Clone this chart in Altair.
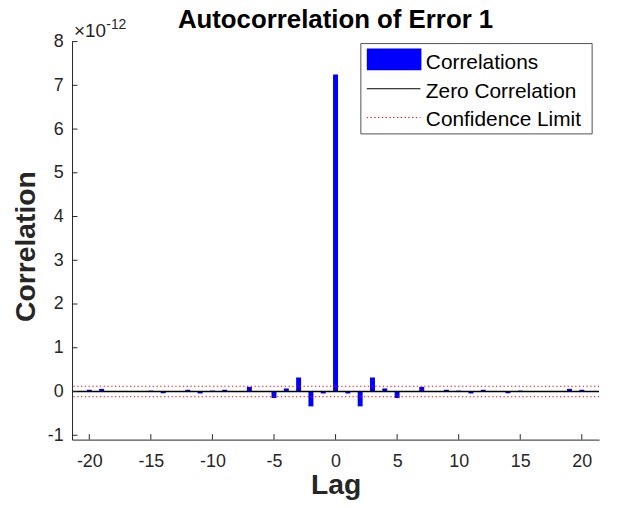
import altair as alt
import pandas as pd

# ---- data (correlation values in units of 1e-12) ----
lags = list(range(-20, 21))
half = [0.04, 0.06, 0.0, -0.01, 0.01, 0.02, -0.04, 0.005, 0.04, -0.045,
        0.02, 0.04, 0.005, 0.105, -0.01, -0.15, 0.07, 0.32, -0.34, -0.045]
peak = 7.25
values = half + [peak] + half[::-1]
conf_limit = 0.12
x_ticks = [-20, -15, -10, -5, 0, 5, 10, 15, 20]
y_ticks = [-1, 0, 1, 2, 3, 4, 5, 6, 7, 8]
legend_labels = ["Correlations", "Zero Correlation", "Confidence Limit"]
title_text = "Autocorrelation of Error 1"

FONT = "Liberation Sans"
AX = "#262626"
W, H = 531, 401

df = pd.DataFrame({"lag": lags, "corr": values})
xs = alt.Scale(domain=[-21, 21], nice=False, zero=False)
ys = alt.Scale(domain=[-1.1, 8], nice=False, zero=False)

bars = alt.Chart(df).mark_bar(color="#0000FF", size=5).encode(
    x=alt.X("lag:Q", scale=xs,
            axis=alt.Axis(values=x_ticks, title="Lag", labelExpr="'' + datum.value",
                          titleY=54, titleBaseline="alphabetic")),
    y=alt.Y("corr:Q", scale=ys,
            axis=alt.Axis(values=y_ticks, title="Correlation", labelExpr="'' + datum.value",
                          titleX=-47, titleY=206, titleBaseline="middle")),
    y2=alt.datum(0),
)

zero_line = alt.Chart(pd.DataFrame({"v": [0]})).mark_rule(color="black", strokeWidth=1.4).encode(
    y=alt.Y("v:Q", scale=ys)
)

conf_lines = alt.Chart(pd.DataFrame({"v": [conf_limit, -conf_limit]})).mark_rule(
    color="#FF0000", strokeWidth=1, strokeDash=[1.3, 2.5]
).encode(y=alt.Y("v:Q", scale=ys))

xtick_marks = alt.Chart(pd.DataFrame({"t": x_ticks})).mark_rule(color=AX, strokeWidth=1).encode(
    x=alt.X("t:Q", scale=xs), y=alt.value(H), y2=alt.value(H - 5.5)
)
ytick_marks = alt.Chart(pd.DataFrame({"t": y_ticks})).mark_rule(color=AX, strokeWidth=1).encode(
    y=alt.Y("t:Q", scale=ys), x=alt.value(0), x2=alt.value(5.5)
)

# title as text mark
title_mark = alt.Chart(pd.DataFrame({"t": [title_text]})).mark_text(
    font=FONT, fontSize=26, fontWeight="bold", color="black",
    align="center", baseline="alphabetic"
).encode(text="t:N", x=alt.value(W / 2), y=alt.value(-13.5))

# exponent label
exp_base = alt.Chart(pd.DataFrame({"t": ["\u00d710"]})).mark_text(
    font=FONT, fontSize=19, color=AX, align="left", baseline="alphabetic"
).encode(text="t:N", x=alt.value(2), y=alt.value(-5))
exp_sup = alt.Chart(pd.DataFrame({"t": ["-12"]})).mark_text(
    font=FONT, fontSize=14, color=AX, align="left", baseline="alphabetic"
).encode(text="t:N", x=alt.value(34.5), y=alt.value(-13))

# legend
leg_box = alt.Chart(pd.DataFrame({"a": [0]})).mark_rect(
    fill="white", stroke=AX, strokeWidth=0.8
).encode(x=alt.value(291), x2=alt.value(524), y=alt.value(2), y2=alt.value(93))
leg_sw = alt.Chart(pd.DataFrame({"a": [0]})).mark_rect(fill="#0000FF").encode(
    x=alt.value(297), x2=alt.value(352), y=alt.value(7), y2=alt.value(29)
)
leg_zero = alt.Chart(pd.DataFrame({"a": [0]})).mark_rule(color="black", strokeWidth=1).encode(
    x=alt.value(297), x2=alt.value(351), y=alt.value(47.5)
)
leg_conf = alt.Chart(pd.DataFrame({"a": [0]})).mark_rule(
    color="#FF0000", strokeWidth=1, strokeDash=[1.3, 2.5]
).encode(x=alt.value(297), x2=alt.value(351), y=alt.value(76.5))

leg_texts = []
for lbl, yy in zip(legend_labels, [27.5, 56.5, 85.5]):
    leg_texts.append(
        alt.Chart(pd.DataFrame({"t": [lbl]})).mark_text(
            font=FONT, fontSize=21, color="black", align="left", baseline="alphabetic"
        ).encode(text="t:N", x=alt.value(356.5), y=alt.value(yy))
    )

chart = alt.layer(
    bars, zero_line, conf_lines, xtick_marks, ytick_marks, title_mark, exp_base, exp_sup,
    leg_box, leg_sw, leg_zero, leg_conf, *leg_texts
).properties(
    width=W, height=H,
    autosize=alt.AutoSizeParams(type="none"),
    padding={"left": 64.5, "top": 32, "right": 10, "bottom": 59},
).configure_view(stroke=None).configure_axis(
    grid=False, ticks=False, tickSize=0, domainColor=AX, domainWidth=1,
    labelFont=FONT, labelFontSize=18, labelColor=AX,
    titleFont=FONT, titleFontSize=28.5, titleFontWeight="bold", titleColor=AX,
).configure_axisY(labelPadding=9).configure_axisX(labelPadding=13.5)

chart.save("out.html", embed_options={"renderer": "svg", "actions": False})
